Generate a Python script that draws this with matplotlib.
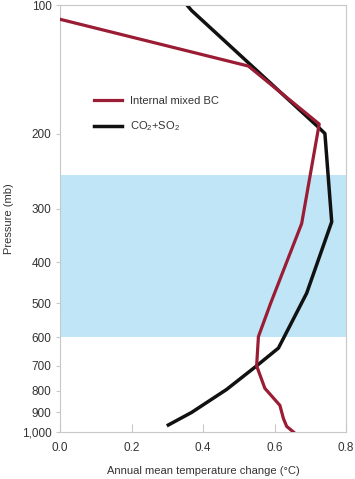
import numpy as np
import matplotlib
matplotlib.use("Agg")
import matplotlib.pyplot as plt
from matplotlib.ticker import FixedLocator, NullLocator

plt.rcParams['font.family'] = ['Liberation Sans', 'DejaVu Sans']
plt.rcParams['mathtext.fontset'] = 'custom'
plt.rcParams['mathtext.rm'] = 'Liberation Sans'

# Internal mixed BC profile
bc_temp = [0.0, 0.527, 0.725, 0.676, 0.589, 0.555, 0.550, 0.573, 0.615, 0.625, 0.634, 0.653]
bc_pres = [108, 139, 190, 325, 500, 598, 700, 790, 866, 930, 970, 1000]

# CO2+SO2 profile
co2_temp = [0.355, 0.368, 0.722, 0.741, 0.760, 0.690, 0.611, 0.550, 0.466, 0.368, 0.303]
co2_pres = [100, 103, 193, 200, 322, 473, 636, 700, 795, 900, 963]

yticks = [100, 200, 300, 400, 500, 600, 700, 800, 900, 1000]
ylabels = ['100', '200', '300', '400', '500', '600', '700', '800', '900', '1,000']
xticks = [0.0, 0.2, 0.4, 0.6, 0.8]

band = (250, 600)

fig = plt.figure(figsize=(3.55, 4.79), dpi=100)
ax = fig.add_axes([60/355, 1 - 432/479, 286/355, 427/479])

ax.axhspan(band[0], band[1], color='#bfe5f6', lw=0, zorder=0)
ax.plot(bc_temp, bc_pres, color='#9b1d35', lw=2.3, label='Internal mixed BC', zorder=3)
ax.plot(co2_temp, co2_pres, color='#111111', lw=2.5, label=r'CO$_2$+SO$_2$', zorder=2)

ax.set_yscale('log')
ax.set_ylim(1000, 100)
ax.set_xlim(0, 0.8)
ax.yaxis.set_major_locator(FixedLocator(yticks))
ax.yaxis.set_minor_locator(NullLocator())
ax.set_yticklabels(ylabels)
ax.set_xticks(xticks)
ax.set_xticklabels(['%.1f' % t for t in xticks])

for s in ax.spines.values():
    s.set_color('#c8c8c8')
    s.set_linewidth(0.8)
ax.tick_params(axis='y', direction='out', length=3, color='#c8c8c8', labelsize=8.5, labelcolor='#333333', pad=3)
ax.tick_params(axis='x', direction='in', length=6, color='#c8c8c8', labelsize=8.5, labelcolor='#333333', pad=7)

ax.set_ylabel('Pressure (mb)', fontsize=8, color='#333333', labelpad=6)
ax.set_xlabel('Annual mean temperature change (°C)', fontsize=8, color='#333333', labelpad=9)

ax.legend(loc='upper left', bbox_to_anchor=(0.085, 0.81), frameon=False, fontsize=8,
          handlelength=2.5, handletextpad=0.7, labelspacing=1.2, labelcolor='#333333')

fig.savefig('out.png', dpi=100)
